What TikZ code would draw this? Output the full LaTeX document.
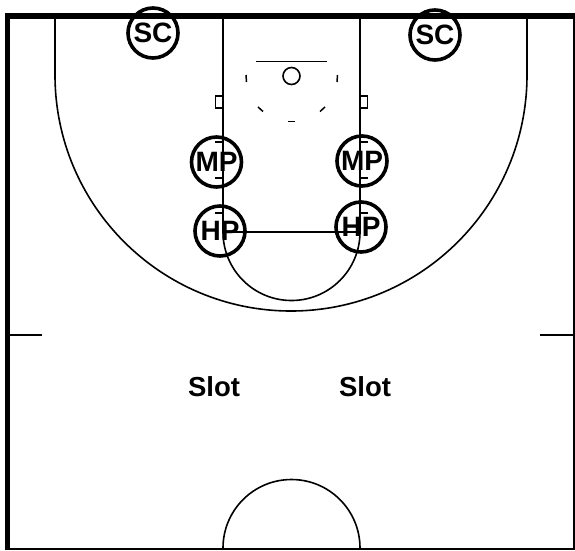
\documentclass[tikz,border=0pt]{standalone}
\usepackage{fontspec}
\setmainfont{Liberation Sans}
\tikzset{
  x=1pt,y=-1pt,
  court/.style={draw=black,line width=1.6pt},
  thinmark/.style={draw=black,line width=1.5pt},
  player/.style={circle,draw=black,line width=3.6pt,minimum size=50pt,inner sep=0pt,font=\bfseries\fontsize{28}{28}\selectfont},
  spot/.style={font=\bfseries\fontsize{27.5}{27.5}\selectfont,inner sep=0pt}
}
\begin{document}
\begin{tikzpicture}
\useasboundingbox (0,0) rectangle (575,550);
% frame
\fill[black] (5,13) rectangle (575,19);
\fill[black] (5,13) rectangle (10,550);
\fill[black] (573,13) rectangle (575,550);
\fill[black] (5,548) rectangle (575,550);
% lane
\draw[court] (223,19) -- (223,232) -- (360,232) -- (360,19);
\draw[court] (223,232) arc[start angle=180,end angle=0,radius=68.5];
% three point
\draw[court] (55,19) -- (55,75) arc[start angle=180,end angle=0,radius=236] -- (527,19);
% basket
\draw[court] (256,61.5) -- (327,61.5);
\draw[court] (291.5,76) circle[radius=8.5];
\draw[thinmark] (246,75) -- (246.5,82);
\draw[thinmark] (337.5,75) -- (337,82);
\draw[thinmark] (258,107) -- (263,111.5);
\draw[thinmark] (325,107) -- (320,111.5);
\draw[thinmark] (288,121.5) -- (295,121.5);
% blocks
\draw[thinmark] (223,96) -- (215.5,96) -- (215.5,108) -- (223,108);
\draw[thinmark] (360,96) -- (367.5,96) -- (367.5,108) -- (360,108);
% lane ticks
\foreach \yy in {142,178,213}{
  \draw[thinmark] (215,\yy) -- (223,\yy);
  \draw[thinmark] (360,\yy) -- (368,\yy);
}
% half court
\draw[court] (10,335) -- (42,335);
\draw[court] (540,335) -- (573,335);
\draw[court] (223,548) arc[start angle=180,end angle=360,radius=68.5];
% players
\node[player] (sca) at (153,33) {SC};
\node[player] (scb) at (435,35) {SC};
\node[player] (mpa) at (216.5,162) {MP};
\node[player] (mpb) at (362,161) {MP};
\node[player] (hpa) at (220,231) {HP};
\node[player] (hpb) at (361,227) {HP};
\node[spot] (slota) at (214,387) {Slot};
\node[spot] (slotb) at (365,387) {Slot};
\end{tikzpicture}
\end{document}
